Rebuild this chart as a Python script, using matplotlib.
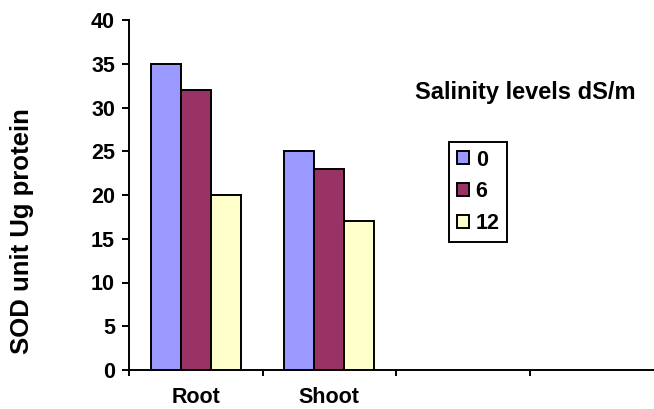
import numpy as np
import matplotlib
matplotlib.use('Agg')
import matplotlib.pyplot as plt

plt.rcParams['font.family'] = ['Liberation Sans', 'DejaVu Sans']
plt.rcParams['font.weight'] = 'bold'

categories = ['Root', 'Shoot']
n_slots = 4
levels = ['0', '6', '12']
sod_0 = [35, 25]
sod_6 = [32, 23]
sod_12 = [20, 17]
colors = ['#9999FF', '#993366', '#FFFFCC']

W, H = 654, 409
fig = plt.figure(figsize=(W / 100, H / 100), dpi=100)
slot_px = 133.5
ax = fig.add_axes([129 / W, 39 / H, (W - 129) / W, 350 / H])

x = np.arange(len(categories))
width = 30 / slot_px
for i, (vals, lab, c) in enumerate(zip([sod_0, sod_6, sod_12], levels, colors)):
    ax.bar(x + (i - 1) * width, vals, width, color=c, edgecolor='black',
           linewidth=1.4, label=lab, zorder=3)

ax.set_xlim(-0.5, -0.5 + (W - 129) / slot_px)
ax.set_ylim(0, 40)
ax.set_yticks(np.arange(0, 41, 5))
ax.set_xticks(np.arange(n_slots) - 0.5)
ax.set_xticklabels([])
ax.set_xticks(x, minor=True)
ax.set_xticklabels(categories, minor=True, fontsize=15.5, fontweight='bold')
ax.tick_params(axis='x', which='major', direction='out', length=4, width=1.4)
ax.tick_params(axis='x', which='minor', length=0, pad=12.5)
ax.tick_params(axis='y', direction='out', length=5, width=1.4, labelsize=15.5, pad=5)
for lbl in ax.get_yticklabels():
    lbl.set_fontweight('bold')

for s in ['top', 'right']:
    ax.spines[s].set_visible(False)
for s in ['left', 'bottom']:
    ax.spines[s].set_linewidth(1.4)

fig.text(22 / W, 1 - 231 / H, 'SOD unit Ug protein', rotation=90,
         ha='center', va='center', fontsize=18.5, fontweight='bold')
fig.text(525 / W, 1 - 92 / H, 'Salinity levels dS/m', ha='center', va='center',
         fontsize=17, fontweight='bold')

leg = ax.legend(loc='upper left', bbox_to_anchor=(449 / W, 1 - 142 / H),
                bbox_transform=fig.transFigure, borderaxespad=0,
                prop={'size': 15.5, 'weight': 'bold'}, fancybox=False,
                edgecolor='black', framealpha=1, handlelength=0.56,
                handleheight=0.56, handletextpad=0.33, labelspacing=0.5,
                borderpad=0.35)
leg.get_frame().set_linewidth(1.4)

fig.savefig('out.png', dpi=100)
